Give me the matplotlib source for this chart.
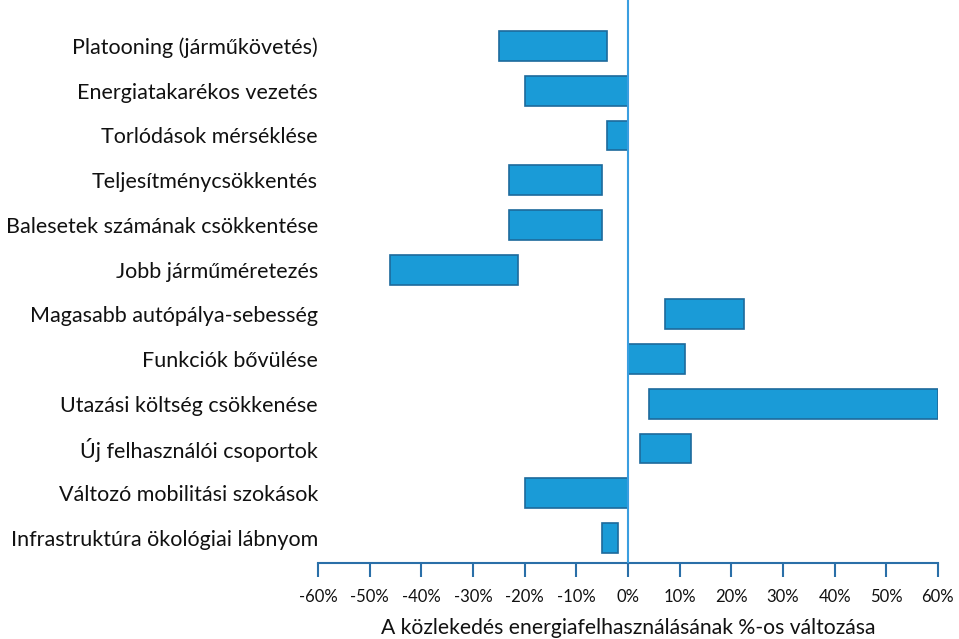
import matplotlib
matplotlib.use("Agg")
import matplotlib.pyplot as plt
import numpy as np

categories = [
    "Platooning (járműkövetés)",
    "Energiatakarékos vezetés",
    "Torlódások mérséklése",
    "Teljesítménycsökkentés",
    "Balesetek számának csökkentése",
    "Jobb járműméretezés",
    "Magasabb autópálya-sebesség",
    "Funkciók bővülése",
    "Utazási költség csökkenése",
    "Új felhasználói csoportok",
    "Változó mobilitási szokások",
    "Infrastruktúra ökológiai lábnyom",
]
low = [-25, -20, -4, -23, -23, -46, 7.2, 0, 4, 2.3, -20, -5]
high = [-4, 0, 0, -5, -5, -21.3, 22.5, 11, 60, 12.2, 0, -2]
xticks = [-60, -50, -40, -30, -20, -10, 0, 10, 20, 30, 40, 50, 60]
xticklabels = [f"{t}%" for t in xticks]
xlabel = "A közlekedés energiafelhasználásának %-os változása"

plt.rcParams['font.family'] = ['Lato', 'DejaVu Sans']

fig = plt.figure(figsize=(9.59, 6.39), dpi=100)
ax = fig.add_axes([0.3316, 0.119, 0.978 - 0.3316, 0.881])

y = np.arange(len(categories))
widths = [h - l for l, h in zip(low, high)]
ax.barh(y, widths, left=low, height=0.67, color='#1a9bd7', edgecolor='#1d6a9c', linewidth=1.2, zorder=2)

ax.axvline(0, color='#3a9ee0', linewidth=1.5, zorder=3)

ax.set_xlim(-60, 60)
ax.set_ylim(11.56, -1.03)
ax.set_yticks(y)
ax.set_yticklabels(categories, fontsize=15.5, color='#111111')
ax.tick_params(axis='y', length=0, pad=0)
ax.set_xticks(xticks)
ax.set_xticklabels(xticklabels, fontsize=12, color='#111111')
ax.tick_params(axis='x', direction='out', length=10, width=1.5, color='#2a6fa8', pad=9)

for s in ['top', 'right', 'left']:
    ax.spines[s].set_visible(False)
ax.spines['bottom'].set_color('#2a6fa8')
ax.spines['bottom'].set_linewidth(1.5)

ax.set_xlabel(xlabel, fontsize=15.2, color='#111111', labelpad=9)

fig.savefig("out.png", dpi=100)
